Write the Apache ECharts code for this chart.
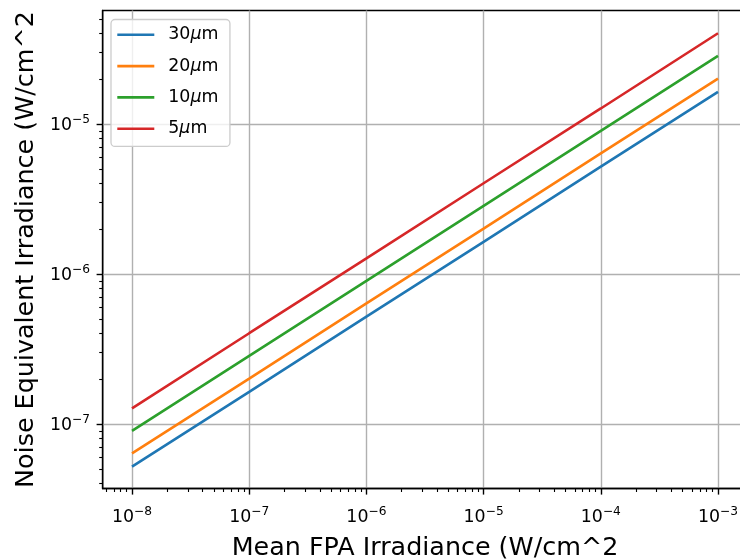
<!DOCTYPE html>
<html>
<head>
<meta charset="utf-8">
<script src="https://cdn.jsdelivr.net/npm/echarts@6/dist/echarts.min.js"></script>
<style>
  html, body { margin: 0; padding: 0; background: #ffffff; overflow: hidden; }
  #chart { width: 740px; height: 559px; }
</style>
</head>
<body>
<div id="chart"></div>
<script>
// Mean focal-plane-array irradiance (W/cm^2)
const irradiance = [1e-8, 1e-7, 1e-6, 1e-5, 1e-4, 1e-3];

// Noise equivalent irradiance (W/cm^2) per pixel pitch
const nei30um = [5.2e-8, 1.64e-7, 5.2e-7, 1.64e-6, 5.2e-6, 1.64e-5];
const nei20um = [6.37e-8, 2.01e-7, 6.37e-7, 2.01e-6, 6.37e-6, 2.01e-5];
const nei10um = [9.0e-8, 2.85e-7, 9.0e-7, 2.85e-6, 9.0e-6, 2.85e-5];
const nei5um  = [1.27e-7, 4.03e-7, 1.27e-6, 4.03e-6, 1.27e-5, 4.03e-5];

const seriesNames = ['30μm', '20μm', '10μm', '5μm'];
const seriesValues = [nei30um, nei20um, nei10um, nei5um];
const seriesColors = ['#1f77b4', '#ff7f0e', '#2ca02c', '#d62728'];

// Decade ticks
const xMajorTicks = [1e-8, 1e-7, 1e-6, 1e-5, 1e-4, 1e-3];
const yMajorTicks = [1e-7, 1e-6, 1e-5];

// Axis extents (the right spine falls just beyond the canvas edge)
const xMin = Math.pow(10, -8.25), xMax = Math.pow(10, -2.75);
const yMin = Math.pow(10, -7.43), yMax = Math.pow(10, -4.243);

function minorTicks(lo, hi) {
  const out = [];
  for (let e = Math.floor(Math.log10(lo)); e <= Math.ceil(Math.log10(hi)); e++) {
    for (let m = 2; m <= 9; m++) {
      const v = m * Math.pow(10, e);
      if (v >= lo && v <= hi) out.push(v);
    }
  }
  return out;
}

const FONT = 'DejaVu Sans';
const black = '#000000';

const tickRich = {
  b: { fontFamily: FONT, fontSize: 17.4, color: black, lineHeight: 20, verticalAlign: 'bottom' },
  s: { fontFamily: FONT, fontSize: 12.2, color: black, lineHeight: 9.4, verticalAlign: 'top' }
};
function powerLabel(value) {
  const e = Math.round(Math.log10(value));
  return '{b|10}{s|' + (e < 0 ? '\u2212' + (-e) : e) + '}';
}

function majorAxis(ticks, extra) {
  return Object.assign({
    type: 'log',
    logBase: 10,
    axisLine: { show: true, lineStyle: { color: black, width: 1.4 } },
    axisTick: { show: true, customValues: ticks, length: 6.1, lineStyle: { color: black, width: 1.4 } },
    axisLabel: { customValues: ticks, formatter: powerLabel, rich: tickRich },
    splitLine: { show: true, lineStyle: { color: '#b0b0b0', width: 1.4 } },
    minorTick: { show: false },
    minorSplitLine: { show: false }
  }, extra);
}
function minorAxis(ticks, extra) {
  return Object.assign({
    type: 'log',
    logBase: 10,
    axisLine: { show: false },
    axisTick: { show: true, customValues: ticks, length: 3.5, lineStyle: { color: black, width: 1.1 } },
    axisLabel: { show: false },
    splitLine: { show: false }
  }, extra);
}

const chart = echarts.init(document.getElementById('chart'), null, { renderer: 'canvas' });

chart.setOption({
  animation: false,
  backgroundColor: '#ffffff',
  grid: {
    left: 102.7, top: 10.5, width: 644.6, height: 478,
    outerBoundsMode: 'none',
    containLabel: false,
    show: true, borderColor: black, borderWidth: 1.4, backgroundColor: 'transparent'
  },
  legend: {
    orient: 'vertical',
    left: 111, top: 19.5,
    padding: [6.8, 11.5, 9.2, 6.3],
    itemWidth: 37, itemHeight: 2.6,
    itemGap: 14.3,
    icon: 'rect',
    backgroundColor: 'rgba(255,255,255,0.8)',
    borderColor: '#cccccc', borderWidth: 1.3, borderRadius: 4,
    data: seriesNames,
    formatter: function (name) {
      const num = name.replace('μm', '');
      return '{a|' + num + '}{i|μ}{n|m}';
    },
    textStyle: {
      rich: {
        a: { fontFamily: FONT, fontSize: 17.4, color: black, padding: [0, 0, 0, 9] },
        i: { fontFamily: FONT, fontSize: 17.4, color: black, fontStyle: 'italic' },
        n: { fontFamily: FONT, fontSize: 17.4, color: black }
      }
    }
  },
  xAxis: [
    majorAxis(xMajorTicks, {
      min: xMin, max: xMax, position: 'bottom',
      axisLabel: { customValues: xMajorTicks, formatter: powerLabel, rich: tickRich, margin: 17.5 },
      name: 'Mean FPA Irradiance (W/cm^2',
      nameLocation: 'middle', nameGap: 47,
      nameTextStyle: { fontFamily: FONT, fontSize: 25.4, color: black }
    }),
    minorAxis(minorTicks(xMin, xMax), { min: xMin, max: xMax, position: 'bottom' })
  ],
  yAxis: [
    majorAxis(yMajorTicks, {
      min: yMin, max: yMax, position: 'left',
      axisLabel: { customValues: yMajorTicks, formatter: powerLabel, rich: tickRich, margin: 12.7 },
      name: 'Noise Equivalent Irradiance (W/cm^2',
      nameLocation: 'middle', nameGap: 58, nameRotate: 90,
      nameTextStyle: { fontFamily: FONT, fontSize: 25.4, color: black }
    }),
    minorAxis(minorTicks(yMin, yMax), { min: yMin, max: yMax, position: 'left' })
  ],
  series: seriesNames.map(function (name, k) {
    return {
      name: name,
      type: 'line',
      xAxisIndex: 0,
      yAxisIndex: 0,
      symbol: 'none',
      showSymbol: false,
      color: seriesColors[k],
      lineStyle: { color: seriesColors[k], width: 2.6 },
      data: irradiance.map(function (x, i) { return [x, seriesValues[k][i]]; })
    };
  })
});
</script>
</body>
</html>
